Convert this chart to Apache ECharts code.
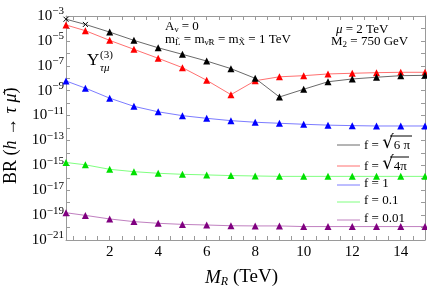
<!DOCTYPE html>
<html><head><meta charset="utf-8">
<script src="https://cdn.jsdelivr.net/npm/echarts@6/dist/echarts.min.js"></script>
<style>html,body{margin:0;padding:0;background:#fff}#c{width:427px;height:291px}</style>
</head><body><div id="c"></div>
<script>
const xValues = [0.2, 1, 2, 3, 4, 5, 6, 7, 8, 9, 10, 11, 12, 13, 14, 15];
const fSqrt6pi = [5.5e-4, 2.1e-4, 5.1e-5, 1.1e-5, 2.8e-6, 8.3e-7, 2.4e-7, 5.9e-8, 9.8e-9, 3.1e-10, 1.3e-9, 5.2e-9, 8.7e-9, 1.2e-8, 1.6e-8, 1.7e-8];
const fSqrt4pi = [1.9e-4, 6.6e-5, 1.1e-5, 2.1e-6, 4.0e-7, 7.1e-8, 6.8e-9, 4.8e-10, 6.3e-9, 1.3e-8, 1.6e-8, 2.2e-8, 2.5e-8, 2.8e-8, 3.0e-8, 3.0e-8];
const f1 = [6.0e-9, 1.6e-9, 2.5e-10, 5.5e-11, 2.0e-11, 9.8e-12, 6.0e-12, 3.9e-12, 2.9e-12, 2.4e-12, 2.0e-12, 1.7e-12, 1.55e-12, 1.45e-12, 1.45e-12, 1.45e-12];
const f01 = [1.7e-15, 1.1e-15, 4.8e-16, 3.1e-16, 2.3e-16, 1.9e-16, 1.7e-16, 1.5e-16, 1.4e-16, 1.3e-16, 1.3e-16, 1.3e-16, 1.3e-16, 1.3e-16, 1.3e-16, 1.3e-16];
const f001 = [1.55e-19, 9.5e-20, 4.9e-20, 3.0e-20, 2.2e-20, 1.8e-20, 1.6e-20, 1.4e-20, 1.35e-20, 1.35e-20, 1.2e-20, 1.2e-20, 1.2e-20, 1.2e-20, 1.2e-20, 1.2e-20];
const xTickLabels = [2, 4, 6, 8, 10, 12, 14];
const yTickLabels = [1e-21, 1e-19, 1e-17, 1e-15, 1e-13, 1e-11, 1e-9, 1e-7, 1e-5, 1e-3];
const legendNames = ['f = √6 π', 'f = √4π', 'f = 1', 'f = 0.1', 'f = 0.01'];
const legendRich = ['{n|f = }{r|√}{n|6 π}', '{n|f = }{r|√}{n|4π}', '{n|f = 1}', '{n|f = 0.1}', '{n|f = 0.01}'];

const FONT = 'Liberation Serif';
const xMinorTicks = [];
for (let v = 0.5; v <= 15; v += 0.5) xMinorTicks.push(v);
const yDecades = [];
for (let e = -21; e <= -3; e++) yDecades.push(Math.pow(10, e));

const styles = [
  {line: '#6a6a6a', mark: '#000000'},
  {line: '#ff7070', mark: '#ff0000'},
  {line: '#7c7cff', mark: '#0000ff'},
  {line: '#80ff80', mark: '#00e000'},
  {line: '#c080c0', mark: '#800080'}
];
const allData = [fSqrt6pi, fSqrt4pi, f1, f01, f001];

const series = allData.map((vals, k) => ({
  type: 'line',
  name: legendNames[k],
  xAxisIndex: 0, yAxisIndex: 0,
  symbol: 'triangle', symbolSize: 7,
  clip: false,
  lineStyle: {color: styles[k].line, width: 1},
  itemStyle: {color: styles[k].mark},
  z: 10 - k,
  data: xValues.map((x, i) => {
    if (k === 0 && i < 2) {
      return {value: [x, vals[i]], symbol: 'path://M0,0L10,10M10,0L0,10', symbolSize: 5,
        itemStyle: {color: 'none', borderColor: '#000', borderWidth: 1}};
    }
    return [x, vals[i]];
  })
}));

const frameColor = '#9a9a9a';
function xAx(pos, labels) {
  return {
    type: 'value', position: pos, min: 0.2, max: 15,
    axisLine: {show: true, onZero: false, lineStyle: {color: frameColor, width: 1}},
    axisTick: {show: true, inside: true, length: 4, customValues: xMinorTicks, lineStyle: {color: frameColor}},
    axisLabel: {show: labels, customValues: xTickLabels, margin: 5, color: '#000', fontFamily: FONT, fontSize: 15},
    splitLine: {show: false}
  };
}
function yAx(pos, labels) {
  return {
    type: 'log', logBase: 10, position: pos, min: 1e-21, max: 1e-3,
    axisLine: {show: true, onZero: false, lineStyle: {color: frameColor, width: 1}},
    axisTick: {show: true, inside: true, length: 4, customValues: yDecades, lineStyle: {color: frameColor}},
    axisLabel: {show: labels, customValues: yTickLabels, margin: 2, color: '#000',
      formatter: v => '{a|10}{b|' + '−' + Math.round(-Math.log10(v)) + '}',
      rich: {
        a: {fontFamily: FONT, fontSize: 15, color: '#000', lineHeight: 18},
        b: {fontFamily: FONT, fontSize: 11, color: '#000', lineHeight: 18, padding: [0, 0, 9, 0]}
      }},
    splitLine: {show: false}
  };
}

const legendRows = [145, 166, 185, 202, 220];
const graphic = [];
legendRows.forEach((y, k) => {
  graphic.push({type: 'line', shape: {x1: 337, y1: y, x2: 360, y2: y}, style: {stroke: styles[k].line, lineWidth: 1}});
  graphic.push({type: 'text', left: 364, top: y - (k < 2 ? 11 : 8), style: {
    text: legendRich[k],
    rich: {
      n: {font: '13px "' + FONT + '"', fill: '#000', lineHeight: 18, verticalAlign: 'bottom'},
      r: {font: '18px "DejaVu Serif"', fill: '#000', lineHeight: 18, verticalAlign: 'bottom'}
    }}});
});

// annotations
graphic.push({type: 'text', left: 165, top: 20, style: {
  rich: {n: {font: '13px "' + FONT + '"', fill: '#000'}, s: {font: '9px "' + FONT + '"', fill: '#000', padding: [6, 0, 0, 0]}},
  text: '{n|A}{s|ν}{n| = 0}'}});
graphic.push({type: 'text', left: 165, top: 33, style: {
  rich: {n: {font: '13px "' + FONT + '"', fill: '#000'}, s: {font: '9px "' + FONT + '"', fill: '#000', padding: [6, 0, 0, 0]}},
  text: '{n|m}{s|L̃}{n| = m}{s|ν̃R}{n| = m}{s|X̃}{n| = 1 TeV}'}});
graphic.push({type: 'text', left: 336, top: 23, style: {
  rich: {i: {font: 'italic 13px "' + FONT + '"', fill: '#000'}, n: {font: '13px "' + FONT + '"', fill: '#000'}},
  text: '{i|μ}{n| = 2 TeV}'}});
graphic.push({type: 'text', left: 331, top: 35, style: {
  rich: {n: {font: '13px "' + FONT + '"', fill: '#000'}, s: {font: '9px "' + FONT + '"', fill: '#000', padding: [6, 0, 0, 0]}},
  text: '{n|M}{s|2}{n| = 750 GeV}'}});
graphic.push({type: 'text', left: 87, top: 52, style: {text: 'Y', font: '17px "' + FONT + '"', fill: '#000'}});
graphic.push({type: 'text', left: 100, top: 50, style: {text: '(3)', font: '11px "' + FONT + '"', fill: '#000'}});
graphic.push({type: 'text', left: 100, top: 63, style: {text: 'τμ', font: 'italic 11px "' + FONT + '"', fill: '#000'}});
// axis titles
graphic.push({type: 'text', left: 205, top: 268, style: {
  rich: {i: {font: 'italic 19px "' + FONT + '"', fill: '#000'}, s: {font: 'italic 12px "' + FONT + '"', fill: '#000', padding: [8, 0, 0, 0]}, n: {font: '19px "' + FONT + '"', fill: '#000'}},
  text: '{i|M}{s|R}{n| (TeV)}'}});
graphic.push({type: 'text', x: 2, y: 184, rotation: Math.PI / 2, style: {
  rich: {i: {font: 'italic 18px "' + FONT + '"', fill: '#000'}, n: {font: '18px "' + FONT + '"', fill: '#000'}},
  text: '{n|BR (}{i|h}{n| → }{i|τ μ̄}{n|)}'}});

const chart = echarts.init(document.getElementById('c'), null, {renderer: 'canvas'});
chart.setOption({
  animation: false,
  backgroundColor: '#fff',
  grid: {left: 66, right: 2, top: 16, bottom: 51, containLabel: false},
  xAxis: [xAx('bottom', true), xAx('top', false)],
  yAxis: [yAx('left', true), yAx('right', false)],
  series: series,
  graphic: graphic
});
// overlines over the radicands, measured from the rendered radical rows
const ovl = [];
[0, 1].forEach(k => {
  const y = legendRows[k];
  ovl.push({type: 'line', shape: {x1: 390, y1: y - 9, x2: k === 0 ? 412 : 409, y2: y - 9}, style: {stroke: '#000', lineWidth: 1}});
});
chart.setOption({graphic: graphic.concat(ovl)});
</script></body></html>
